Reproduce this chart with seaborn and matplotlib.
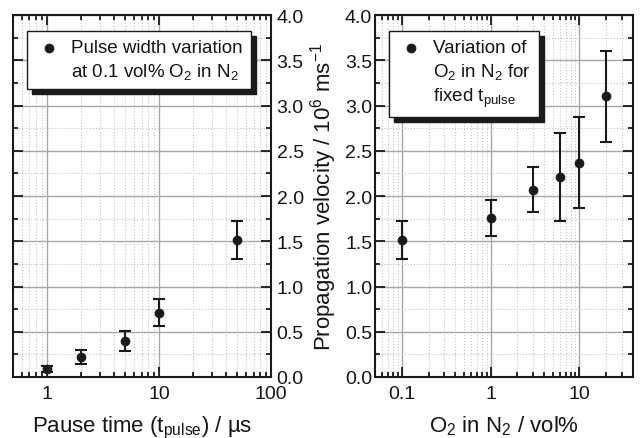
import matplotlib
matplotlib.use("Agg")
import matplotlib.pyplot as plt
import matplotlib.ticker as mticker
import numpy as np
import seaborn as sns

# left panel: pause time variation
pause_time = [1, 2, 5, 10, 50]
pause_v = [0.09, 0.22, 0.40, 0.71, 1.51]
pause_err = [0.03, 0.08, 0.11, 0.15, 0.21]

# right panel: O2 content variation
o2_conc = [0.1, 1, 3, 6, 10, 20]
o2_v = [1.51, 1.76, 2.07, 2.21, 2.37, 3.10]
o2_err = [0.21, 0.20, 0.25, 0.49, 0.50, 0.50]

left_label = "Pulse width variation\nat 0.1 vol% O$_2$ in N$_2$"
right_label = "Variation of\nO$_2$ in N$_2$ for\nfixed t$_{pulse}$"

sns.set_theme(style="ticks")
plt.rcParams['font.family'] = ['Liberation Sans', 'DejaVu Sans']
plt.rcParams['mathtext.default'] = 'regular'
plt.rcParams['text.color'] = '#151515'
plt.rcParams['axes.labelcolor'] = '#151515'
plt.rcParams['xtick.labelcolor'] = '#151515'
plt.rcParams['ytick.labelcolor'] = '#151515'

fig = plt.figure(figsize=(6.43, 4.39), dpi=100)
ax1 = fig.add_axes([13/643, 61/439, 258/643, 362/439])
ax2 = fig.add_axes([375/643, 61/439, 258/643, 362/439])


def style_axes(ax, xlim, xticks):
    ax.set_xscale("log")
    ax.set_xlim(*xlim)
    ax.set_ylim(0, 4)
    ax.yaxis.set_major_locator(mticker.MultipleLocator(0.5))
    ax.yaxis.set_minor_locator(mticker.MultipleLocator(0.25))
    ax.xaxis.set_major_locator(mticker.FixedLocator(xticks))
    ax.xaxis.set_minor_locator(mticker.LogLocator(base=10, subs=np.arange(2, 10), numticks=30))
    ax.xaxis.set_major_formatter(mticker.FuncFormatter(lambda v, p: f"{v:g}"))
    ax.xaxis.set_minor_formatter(mticker.NullFormatter())
    ax.yaxis.set_major_formatter(mticker.FormatStrFormatter("%.1f"))
    ax.grid(which="major", color="#a8a8a8", lw=1.0, ls="-")
    ax.grid(which="minor", color="#c4c4c4", lw=0.8, ls=":")
    ax.set_axisbelow(True)
    ax.tick_params(which="both", direction="in", top=True, right=True, left=True,
                   bottom=True, width=1.3, color="k", labelsize=14, pad=6)
    ax.tick_params(which="major", length=7)
    ax.tick_params(which="minor", length=3.5)
    for s in ax.spines.values():
        s.set_linewidth(1.5)
        s.set_color("k")


def add_legend(ax):
    leg = ax.legend(loc="upper left", bbox_to_anchor=(0.054, 0.956), borderaxespad=0,
                    frameon=True, fancybox=False, edgecolor="k", framealpha=1,
                    shadow={"color": "k", "alpha": 1, "ox": 3.6, "oy": -3.6},
                    fontsize=13.5, handlelength=1.5, handletextpad=0.4, borderpad=0.45,
                    handleheight=1.2)
    leg.get_frame().set_linewidth(1.0)
    for t in leg.get_texts():
        t.set_linespacing(1.3)
    # put the marker next to the first text line
    for col in leg._legend_handle_box.get_children():
        for item in col.get_children():
            item.align = "top"
    return leg


# left panel
style_axes(ax1, (0.5, 100), [1, 10, 100])
ax1.errorbar(pause_time, pause_v, yerr=pause_err, fmt="none", ecolor="k",
             elinewidth=1.5, capsize=4.3, capthick=1.5, zorder=2)
sns.scatterplot(x=pause_time, y=pause_v, ax=ax1, color="k", s=42, edgecolor="k",
                label=left_label, zorder=3)
ax1.tick_params(axis="y", labelleft=False, labelright=True, pad=4)
ax1.set_xlabel("Pause time (t$_{pulse}$) / µs", fontsize=16, labelpad=8)
add_legend(ax1)

# right panel
style_axes(ax2, (0.05, 40), [0.1, 1, 10])
ax2.errorbar(o2_conc, o2_v, yerr=o2_err, fmt="none", ecolor="k",
             elinewidth=1.5, capsize=4.3, capthick=1.5, zorder=2)
sns.scatterplot(x=o2_conc, y=o2_v, ax=ax2, color="k", s=42, edgecolor="k",
                label=right_label, zorder=3)
ax2.tick_params(axis="y", labelleft=True, labelright=False, pad=2)
ax2.set_xlabel("O$_2$ in N$_2$ / vol%", fontsize=16, labelpad=8)
ax2.set_ylabel("Propagation velocity / 10$^6$ ms$^{-1}$", fontsize=16, labelpad=4)
add_legend(ax2)

fig.savefig("out.png", dpi=100)
